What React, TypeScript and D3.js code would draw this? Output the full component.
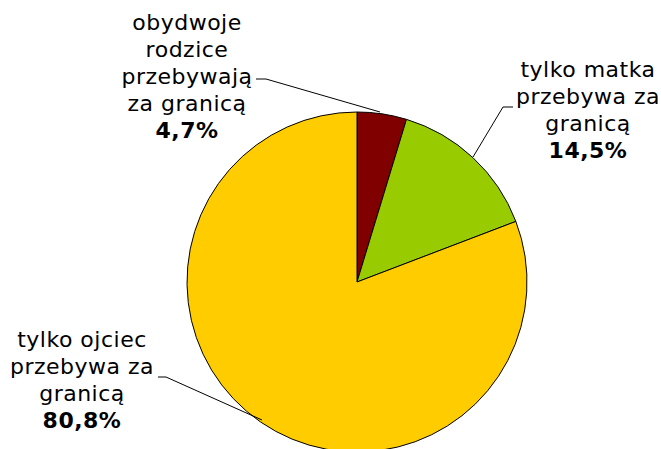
import React from "react";
import * as d3 from "d3";

const categories = ["obydwoje rodzice przebywają za granicą", "tylko matka przebywa za granicą", "tylko ojciec przebywa za granicą"];
const values = [4.7, 14.5, 80.8];
const valueLabels = ["4,7%", "14,5%", "80,8%"];
const labelLines = [
  ["obydwoje", "rodzice", "przebywają", "za granicą"],
  ["tylko matka", "przebywa za", "granicą"],
  ["tylko ojciec", "przebywa za", "granicą"],
];
const colors = ["#800000", "#99CC00", "#FFCC00"];

const W = 661, H = 449;
const cx = 357, cy = 282, R = 170;
const labelPos = [
  { x: 187, y: 30 },
  { x: 588, y: 77 },
  { x: 82, y: 347 },
];
const leaders = [
  [[256, 79], [266, 79], [380, 112]],
  [[513, 107], [503, 107], [473, 157]],
  [[158, 377], [166, 377], [262, 420]],
];

export default function App() {
  const pie = d3.pie<number>().sort(null).value((d) => d);
  const arcs = pie(values);
  const arc = d3.arc<d3.PieArcDatum<number>>().innerRadius(0).outerRadius(R);
  const line = d3.line();
  const lh = 27;
  return (
    <svg width={W} height={H} style={{ position: "absolute", left: 0, top: 0 }} fontFamily="DejaVu Sans, Verdana, sans-serif">
      <g transform={`translate(${cx},${cy})`}>
        {arcs.map((a, i) => (
          <path key={i} d={arc(a) || ""} fill={colors[i]} stroke="#000" strokeWidth={1} />
        ))}
      </g>
      {leaders.map((l, i) => (
        <path key={i} d={line(l as [number, number][]) || ""} fill="none" stroke="#000" strokeWidth={1} />
      ))}
      {labelLines.map((lines, i) => (
        <text key={i} textAnchor="middle" fontSize={22} letterSpacing={0.5} fill="#000">
          {lines.map((t, j) => (
            <tspan key={j} x={labelPos[i].x} y={labelPos[i].y + j * lh}>{t}</tspan>
          ))}
          <tspan x={labelPos[i].x} y={labelPos[i].y + lines.length * lh} fontWeight="bold">{valueLabels[i]}</tspan>
        </text>
      ))}
    </svg>
  );
}
